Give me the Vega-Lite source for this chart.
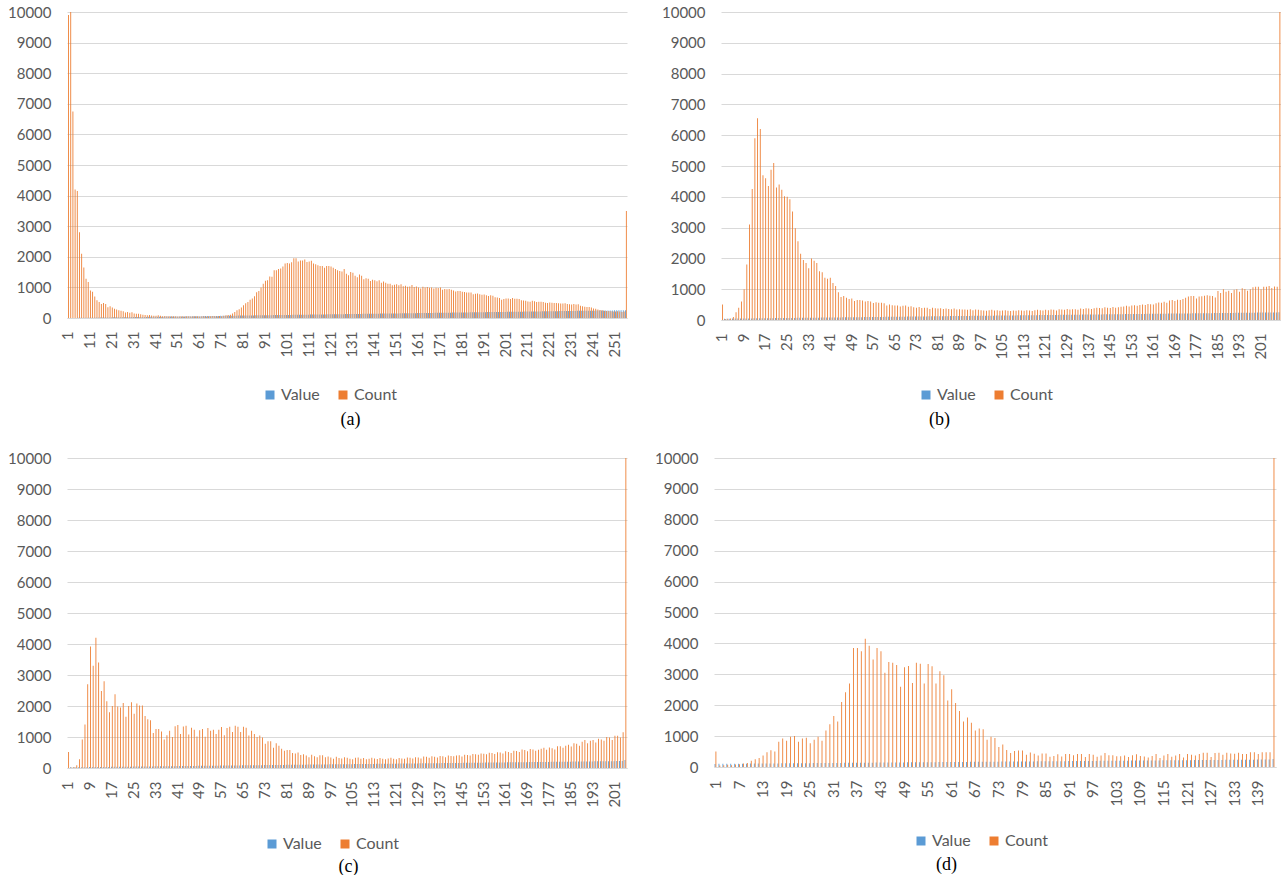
{
"$schema": "https://vega.github.io/schema/vega-lite/v6.json",
"background": "white",
"padding": {"left": 7, "top": 5, "right": 0, "bottom": 0},
"config": {
  "view": {"stroke": null},
  "axis": {"labelFont": "Lato", "labelFontSize": 15, "labelColor": "#595959", "gridColor": "#d9d9d9", "gridWidth": 1, "domainColor": "#d9d9d9", "ticks": false, "titleFont": "Liberation Serif", "titleFontSize": 18, "titleColor": "#000000", "titleFontWeight": "normal"},
  "axisY": {"domain": false, "grid": true, "labelPadding": 16, "format": "d"},
  "axisX": {"grid": false, "labelAngle": -90, "labelPadding": 13, "labelOverlap": false, "titleBaseline": "alphabetic", "titleAlign": "center"},
  "legend": {"labelFont": "Lato", "labelFontSize": 16, "labelColor": "#595959", "symbolType": "square", "symbolSize": 81, "symbolStrokeWidth": 0, "columnPadding": 15, "labelOffset": 3, "padding": 0, "orient": "none", "direction": "horizontal", "title": null}
},
"datasets": {
"a": [
{"i":1,"Value":0,"Count":9900},{"i":2,"Value":1,"Count":10800},{"i":3,"Value":2,"Count":6750},{"i":4,"Value":3,"Count":4200},{"i":5,"Value":4,"Count":4150},{"i":6,"Value":5,"Count":2800},{"i":7,"Value":6,"Count":2100},{"i":8,"Value":7,"Count":1650},{"i":9,"Value":8,"Count":1280},{"i":10,"Value":9,"Count":1180},
{"i":11,"Value":10,"Count":900},{"i":12,"Value":11,"Count":860},{"i":13,"Value":12,"Count":700},{"i":14,"Value":13,"Count":580},{"i":15,"Value":14,"Count":520},{"i":16,"Value":15,"Count":460},{"i":17,"Value":16,"Count":490},{"i":18,"Value":17,"Count":460},{"i":19,"Value":18,"Count":350},{"i":20,"Value":19,"Count":380},
{"i":21,"Value":20,"Count":340},{"i":22,"Value":21,"Count":300},{"i":23,"Value":22,"Count":280},{"i":24,"Value":23,"Count":250},{"i":25,"Value":24,"Count":240},{"i":26,"Value":25,"Count":220},{"i":27,"Value":26,"Count":180},{"i":28,"Value":27,"Count":200},{"i":29,"Value":28,"Count":170},{"i":30,"Value":29,"Count":190},
{"i":31,"Value":30,"Count":150},{"i":32,"Value":31,"Count":140},{"i":33,"Value":32,"Count":140},{"i":34,"Value":33,"Count":120},{"i":35,"Value":34,"Count":110},{"i":36,"Value":35,"Count":100},{"i":37,"Value":36,"Count":90},{"i":38,"Value":37,"Count":100},{"i":39,"Value":38,"Count":80},{"i":40,"Value":39,"Count":75},
{"i":41,"Value":40,"Count":70},{"i":42,"Value":41,"Count":90},{"i":43,"Value":42,"Count":70},{"i":44,"Value":43,"Count":60},{"i":45,"Value":44,"Count":65},{"i":46,"Value":45,"Count":60},{"i":47,"Value":46,"Count":55},{"i":48,"Value":47,"Count":60},{"i":49,"Value":48,"Count":55},{"i":50,"Value":49,"Count":60},
{"i":51,"Value":50,"Count":50},{"i":52,"Value":51,"Count":55},{"i":53,"Value":52,"Count":60},{"i":54,"Value":53,"Count":50},{"i":55,"Value":54,"Count":55},{"i":56,"Value":55,"Count":60},{"i":57,"Value":56,"Count":50},{"i":58,"Value":57,"Count":55},{"i":59,"Value":58,"Count":60},{"i":60,"Value":59,"Count":55},
{"i":61,"Value":60,"Count":45},{"i":62,"Value":61,"Count":55},{"i":63,"Value":62,"Count":60},{"i":64,"Value":63,"Count":50},{"i":65,"Value":64,"Count":60},{"i":66,"Value":65,"Count":55},{"i":67,"Value":66,"Count":65},{"i":68,"Value":67,"Count":60},{"i":69,"Value":68,"Count":60},{"i":70,"Value":69,"Count":65},
{"i":71,"Value":70,"Count":60},{"i":72,"Value":71,"Count":70},{"i":73,"Value":72,"Count":90},{"i":74,"Value":73,"Count":95},{"i":75,"Value":74,"Count":110},{"i":76,"Value":75,"Count":150},{"i":77,"Value":76,"Count":200},{"i":78,"Value":77,"Count":250},{"i":79,"Value":78,"Count":290},{"i":80,"Value":79,"Count":340},
{"i":81,"Value":80,"Count":420},{"i":82,"Value":81,"Count":480},{"i":83,"Value":82,"Count":520},{"i":84,"Value":83,"Count":600},{"i":85,"Value":84,"Count":640},{"i":86,"Value":85,"Count":710},{"i":87,"Value":86,"Count":840},{"i":88,"Value":87,"Count":880},{"i":89,"Value":88,"Count":1000},{"i":90,"Value":89,"Count":1120},
{"i":91,"Value":90,"Count":1220},{"i":92,"Value":91,"Count":1230},{"i":93,"Value":92,"Count":1360},{"i":94,"Value":93,"Count":1350},{"i":95,"Value":94,"Count":1560},{"i":96,"Value":95,"Count":1560},{"i":97,"Value":96,"Count":1600},{"i":98,"Value":97,"Count":1620},{"i":99,"Value":98,"Count":1680},{"i":100,"Value":99,"Count":1780},
{"i":101,"Value":100,"Count":1800},{"i":102,"Value":101,"Count":1780},{"i":103,"Value":102,"Count":1820},{"i":104,"Value":103,"Count":1950},{"i":105,"Value":104,"Count":1950},{"i":106,"Value":105,"Count":1850},{"i":107,"Value":106,"Count":1880},{"i":108,"Value":107,"Count":1880},{"i":109,"Value":108,"Count":1910},{"i":110,"Value":109,"Count":1830},
{"i":111,"Value":110,"Count":1850},{"i":112,"Value":111,"Count":1870},{"i":113,"Value":112,"Count":1780},{"i":114,"Value":113,"Count":1760},{"i":115,"Value":114,"Count":1720},{"i":116,"Value":115,"Count":1700},{"i":117,"Value":116,"Count":1700},{"i":118,"Value":117,"Count":1640},{"i":119,"Value":118,"Count":1700},{"i":120,"Value":119,"Count":1700},
{"i":121,"Value":120,"Count":1680},{"i":122,"Value":121,"Count":1640},{"i":123,"Value":122,"Count":1600},{"i":124,"Value":123,"Count":1560},{"i":125,"Value":124,"Count":1540},{"i":126,"Value":125,"Count":1520},{"i":127,"Value":126,"Count":1600},{"i":128,"Value":127,"Count":1450},{"i":129,"Value":128,"Count":1400},{"i":130,"Value":129,"Count":1500},
{"i":131,"Value":130,"Count":1480},{"i":132,"Value":131,"Count":1380},{"i":133,"Value":132,"Count":1330},{"i":134,"Value":133,"Count":1420},{"i":135,"Value":134,"Count":1380},{"i":136,"Value":135,"Count":1270},{"i":137,"Value":136,"Count":1300},{"i":138,"Value":137,"Count":1280},{"i":139,"Value":138,"Count":1210},{"i":140,"Value":139,"Count":1250},
{"i":141,"Value":140,"Count":1230},{"i":142,"Value":141,"Count":1200},{"i":143,"Value":142,"Count":1230},{"i":144,"Value":143,"Count":1150},{"i":145,"Value":144,"Count":1190},{"i":146,"Value":145,"Count":1150},{"i":147,"Value":146,"Count":1120},{"i":148,"Value":147,"Count":1120},{"i":149,"Value":148,"Count":1070},{"i":150,"Value":149,"Count":1090},
{"i":151,"Value":150,"Count":1100},{"i":152,"Value":151,"Count":1070},{"i":153,"Value":152,"Count":1100},{"i":154,"Value":153,"Count":1040},{"i":155,"Value":154,"Count":1050},{"i":156,"Value":155,"Count":1020},{"i":157,"Value":156,"Count":1030},{"i":158,"Value":157,"Count":1080},{"i":159,"Value":158,"Count":1010},{"i":160,"Value":159,"Count":1030},
{"i":161,"Value":160,"Count":1000},{"i":162,"Value":161,"Count":960},{"i":163,"Value":162,"Count":1020},{"i":164,"Value":163,"Count":1000},{"i":165,"Value":164,"Count":1010},{"i":166,"Value":165,"Count":990},{"i":167,"Value":166,"Count":1000},{"i":168,"Value":167,"Count":960},{"i":169,"Value":168,"Count":990},{"i":170,"Value":169,"Count":980},
{"i":171,"Value":170,"Count":1000},{"i":172,"Value":171,"Count":920},{"i":173,"Value":172,"Count":950},{"i":174,"Value":173,"Count":940},{"i":175,"Value":174,"Count":950},{"i":176,"Value":175,"Count":920},{"i":177,"Value":176,"Count":900},{"i":178,"Value":177,"Count":870},{"i":179,"Value":178,"Count":880},{"i":180,"Value":179,"Count":880},
{"i":181,"Value":180,"Count":860},{"i":182,"Value":181,"Count":850},{"i":183,"Value":182,"Count":830},{"i":184,"Value":183,"Count":830},{"i":185,"Value":184,"Count":830},{"i":186,"Value":185,"Count":780},{"i":187,"Value":186,"Count":790},{"i":188,"Value":187,"Count":800},{"i":189,"Value":188,"Count":780},{"i":190,"Value":189,"Count":760},
{"i":191,"Value":190,"Count":770},{"i":192,"Value":191,"Count":740},{"i":193,"Value":192,"Count":720},{"i":194,"Value":193,"Count":740},{"i":195,"Value":194,"Count":730},{"i":196,"Value":195,"Count":680},{"i":197,"Value":196,"Count":670},{"i":198,"Value":197,"Count":650},{"i":199,"Value":198,"Count":600},{"i":200,"Value":199,"Count":620},
{"i":201,"Value":200,"Count":640},{"i":202,"Value":201,"Count":640},{"i":203,"Value":202,"Count":620},{"i":204,"Value":203,"Count":650},{"i":205,"Value":204,"Count":630},{"i":206,"Value":205,"Count":630},{"i":207,"Value":206,"Count":620},{"i":208,"Value":207,"Count":580},{"i":209,"Value":208,"Count":570},{"i":210,"Value":209,"Count":560},
{"i":211,"Value":210,"Count":540},{"i":212,"Value":211,"Count":530},{"i":213,"Value":212,"Count":560},{"i":214,"Value":213,"Count":550},{"i":215,"Value":214,"Count":520},{"i":216,"Value":215,"Count":530},{"i":217,"Value":216,"Count":530},{"i":218,"Value":217,"Count":520},{"i":219,"Value":218,"Count":500},{"i":220,"Value":219,"Count":490},
{"i":221,"Value":220,"Count":510},{"i":222,"Value":221,"Count":500},{"i":223,"Value":222,"Count":490},{"i":224,"Value":223,"Count":490},{"i":225,"Value":224,"Count":480},{"i":226,"Value":225,"Count":470},{"i":227,"Value":226,"Count":470},{"i":228,"Value":227,"Count":480},{"i":229,"Value":228,"Count":460},{"i":230,"Value":229,"Count":450},
{"i":231,"Value":230,"Count":440},{"i":232,"Value":231,"Count":460},{"i":233,"Value":232,"Count":440},{"i":234,"Value":233,"Count":450},{"i":235,"Value":234,"Count":400},{"i":236,"Value":235,"Count":380},{"i":237,"Value":236,"Count":370},{"i":238,"Value":237,"Count":360},{"i":239,"Value":238,"Count":360},{"i":240,"Value":239,"Count":340},
{"i":241,"Value":240,"Count":310},{"i":242,"Value":241,"Count":300},{"i":243,"Value":242,"Count":280},{"i":244,"Value":243,"Count":260},{"i":245,"Value":244,"Count":250},{"i":246,"Value":245,"Count":240},{"i":247,"Value":246,"Count":230},{"i":248,"Value":247,"Count":230},{"i":249,"Value":248,"Count":220},{"i":250,"Value":249,"Count":210},
{"i":251,"Value":250,"Count":210},{"i":252,"Value":251,"Count":220},{"i":253,"Value":252,"Count":210},{"i":254,"Value":253,"Count":200},{"i":255,"Value":254,"Count":210},{"i":256,"Value":255,"Count":3500}
],
"b": [
{"i":1,"Value":0,"Count":500},{"i":2,"Value":42,"Count":30},{"i":3,"Value":43,"Count":40},{"i":4,"Value":44,"Count":50},{"i":5,"Value":45,"Count":100},{"i":6,"Value":46,"Count":250},{"i":7,"Value":47,"Count":400},{"i":8,"Value":48,"Count":600},{"i":9,"Value":49,"Count":1000},{"i":10,"Value":50,"Count":1800},
{"i":11,"Value":51,"Count":3100},{"i":12,"Value":52,"Count":4250},{"i":13,"Value":53,"Count":5900},{"i":14,"Value":54,"Count":6550},{"i":15,"Value":55,"Count":6200},{"i":16,"Value":56,"Count":4700},{"i":17,"Value":57,"Count":4600},{"i":18,"Value":58,"Count":4350},{"i":19,"Value":59,"Count":4880},{"i":20,"Value":60,"Count":5100},
{"i":21,"Value":61,"Count":4300},{"i":22,"Value":62,"Count":4400},{"i":23,"Value":63,"Count":4230},{"i":24,"Value":64,"Count":4020},{"i":25,"Value":65,"Count":4000},{"i":26,"Value":66,"Count":3920},{"i":27,"Value":67,"Count":3520},{"i":28,"Value":68,"Count":2980},{"i":29,"Value":69,"Count":2560},{"i":30,"Value":70,"Count":2150},
{"i":31,"Value":71,"Count":1950},{"i":32,"Value":72,"Count":1850},{"i":33,"Value":73,"Count":1680},{"i":34,"Value":74,"Count":2000},{"i":35,"Value":75,"Count":1920},{"i":36,"Value":76,"Count":1850},{"i":37,"Value":77,"Count":1580},{"i":38,"Value":78,"Count":1550},{"i":39,"Value":79,"Count":1370},{"i":40,"Value":80,"Count":1340},
{"i":41,"Value":81,"Count":1370},{"i":42,"Value":82,"Count":1200},{"i":43,"Value":83,"Count":1100},{"i":44,"Value":84,"Count":900},{"i":45,"Value":85,"Count":750},{"i":46,"Value":86,"Count":780},{"i":47,"Value":87,"Count":720},{"i":48,"Value":88,"Count":680},{"i":49,"Value":89,"Count":700},{"i":50,"Value":90,"Count":620},
{"i":51,"Value":91,"Count":650},{"i":52,"Value":92,"Count":650},{"i":53,"Value":93,"Count":630},{"i":54,"Value":94,"Count":600},{"i":55,"Value":95,"Count":620},{"i":56,"Value":96,"Count":600},{"i":57,"Value":97,"Count":550},{"i":58,"Value":98,"Count":580},{"i":59,"Value":99,"Count":560},{"i":60,"Value":100,"Count":560},
{"i":61,"Value":101,"Count":540},{"i":62,"Value":102,"Count":470},{"i":63,"Value":103,"Count":500},{"i":64,"Value":104,"Count":480},{"i":65,"Value":105,"Count":470},{"i":66,"Value":106,"Count":470},{"i":67,"Value":107,"Count":440},{"i":68,"Value":108,"Count":460},{"i":69,"Value":109,"Count":470},{"i":70,"Value":110,"Count":430},
{"i":71,"Value":111,"Count":450},{"i":72,"Value":112,"Count":410},{"i":73,"Value":113,"Count":400},{"i":74,"Value":114,"Count":420},{"i":75,"Value":115,"Count":390},{"i":76,"Value":116,"Count":400},{"i":77,"Value":117,"Count":400},{"i":78,"Value":118,"Count":360},{"i":79,"Value":119,"Count":400},{"i":80,"Value":120,"Count":380},
{"i":81,"Value":121,"Count":370},{"i":82,"Value":122,"Count":380},{"i":83,"Value":123,"Count":360},{"i":84,"Value":124,"Count":370},{"i":85,"Value":125,"Count":360},{"i":86,"Value":126,"Count":350},{"i":87,"Value":127,"Count":370},{"i":88,"Value":128,"Count":340},{"i":89,"Value":129,"Count":350},{"i":90,"Value":130,"Count":340},
{"i":91,"Value":131,"Count":340},{"i":92,"Value":132,"Count":330},{"i":93,"Value":133,"Count":350},{"i":94,"Value":134,"Count":320},{"i":95,"Value":135,"Count":340},{"i":96,"Value":136,"Count":330},{"i":97,"Value":137,"Count":320},{"i":98,"Value":138,"Count":310},{"i":99,"Value":139,"Count":300},{"i":100,"Value":140,"Count":320},
{"i":101,"Value":141,"Count":330},{"i":102,"Value":142,"Count":310},{"i":103,"Value":143,"Count":320},{"i":104,"Value":144,"Count":300},{"i":105,"Value":145,"Count":310},{"i":106,"Value":146,"Count":320},{"i":107,"Value":147,"Count":300},{"i":108,"Value":148,"Count":290},{"i":109,"Value":149,"Count":310},{"i":110,"Value":150,"Count":300},
{"i":111,"Value":151,"Count":320},{"i":112,"Value":152,"Count":310},{"i":113,"Value":153,"Count":300},{"i":114,"Value":154,"Count":320},{"i":115,"Value":155,"Count":310},{"i":116,"Value":156,"Count":290},{"i":117,"Value":157,"Count":320},{"i":118,"Value":158,"Count":330},{"i":119,"Value":159,"Count":320},{"i":120,"Value":160,"Count":310},
{"i":121,"Value":161,"Count":330},{"i":122,"Value":162,"Count":320},{"i":123,"Value":163,"Count":340},{"i":124,"Value":164,"Count":330},{"i":125,"Value":165,"Count":310},{"i":126,"Value":166,"Count":350},{"i":127,"Value":167,"Count":340},{"i":128,"Value":168,"Count":330},{"i":129,"Value":169,"Count":360},{"i":130,"Value":170,"Count":340},
{"i":131,"Value":171,"Count":350},{"i":132,"Value":172,"Count":350},{"i":133,"Value":173,"Count":330},{"i":134,"Value":174,"Count":370},{"i":135,"Value":175,"Count":360},{"i":136,"Value":176,"Count":380},{"i":137,"Value":177,"Count":370},{"i":138,"Value":178,"Count":360},{"i":139,"Value":179,"Count":380},{"i":140,"Value":180,"Count":400},
{"i":141,"Value":181,"Count":390},{"i":142,"Value":182,"Count":380},{"i":143,"Value":183,"Count":410},{"i":144,"Value":184,"Count":400},{"i":145,"Value":185,"Count":390},{"i":146,"Value":186,"Count":420},{"i":147,"Value":187,"Count":400},{"i":148,"Value":188,"Count":410},{"i":149,"Value":189,"Count":430},{"i":150,"Value":190,"Count":440},
{"i":151,"Value":191,"Count":460},{"i":152,"Value":192,"Count":440},{"i":153,"Value":193,"Count":470},{"i":154,"Value":194,"Count":480},{"i":155,"Value":195,"Count":460},{"i":156,"Value":196,"Count":490},{"i":157,"Value":197,"Count":500},{"i":158,"Value":198,"Count":490},{"i":159,"Value":199,"Count":520},{"i":160,"Value":200,"Count":510},
{"i":161,"Value":201,"Count":500},{"i":162,"Value":202,"Count":540},{"i":163,"Value":203,"Count":570},{"i":164,"Value":204,"Count":560},{"i":165,"Value":205,"Count":590},{"i":166,"Value":206,"Count":560},{"i":167,"Value":207,"Count":630},{"i":168,"Value":208,"Count":650},{"i":169,"Value":209,"Count":620},{"i":170,"Value":210,"Count":660},
{"i":171,"Value":211,"Count":650},{"i":172,"Value":212,"Count":680},{"i":173,"Value":213,"Count":720},{"i":174,"Value":214,"Count":760},{"i":175,"Value":215,"Count":780},{"i":176,"Value":216,"Count":780},{"i":177,"Value":217,"Count":700},{"i":178,"Value":218,"Count":760},{"i":179,"Value":219,"Count":770},{"i":180,"Value":220,"Count":790},
{"i":181,"Value":221,"Count":800},{"i":182,"Value":222,"Count":790},{"i":183,"Value":223,"Count":780},{"i":184,"Value":224,"Count":730},{"i":185,"Value":225,"Count":940},{"i":186,"Value":226,"Count":880},{"i":187,"Value":227,"Count":1000},{"i":188,"Value":228,"Count":920},{"i":189,"Value":229,"Count":950},{"i":190,"Value":230,"Count":880},
{"i":191,"Value":231,"Count":980},{"i":192,"Value":232,"Count":1000},{"i":193,"Value":233,"Count":920},{"i":194,"Value":234,"Count":1030},{"i":195,"Value":235,"Count":1010},{"i":196,"Value":236,"Count":950},{"i":197,"Value":237,"Count":1000},{"i":198,"Value":238,"Count":1060},{"i":199,"Value":239,"Count":1080},{"i":200,"Value":240,"Count":1080},
{"i":201,"Value":241,"Count":1000},{"i":202,"Value":242,"Count":1080},{"i":203,"Value":243,"Count":1080},{"i":204,"Value":244,"Count":1100},{"i":205,"Value":245,"Count":1040},{"i":206,"Value":246,"Count":1090},{"i":207,"Value":247,"Count":1080},{"i":208,"Value":255,"Count":12000}
],
"c": [
{"i":1,"Value":0,"Count":520},{"i":2,"Value":22,"Count":20},{"i":3,"Value":23,"Count":30},{"i":4,"Value":24,"Count":90},{"i":5,"Value":25,"Count":280},{"i":6,"Value":26,"Count":920},{"i":7,"Value":27,"Count":1400},{"i":8,"Value":28,"Count":2700},{"i":9,"Value":29,"Count":3920},{"i":10,"Value":30,"Count":3300},
{"i":11,"Value":31,"Count":4200},{"i":12,"Value":32,"Count":3400},{"i":13,"Value":33,"Count":2480},{"i":14,"Value":34,"Count":2800},{"i":15,"Value":35,"Count":2150},{"i":16,"Value":36,"Count":1800},{"i":17,"Value":37,"Count":2000},{"i":18,"Value":38,"Count":2380},{"i":19,"Value":39,"Count":1980},{"i":20,"Value":40,"Count":1950},
{"i":21,"Value":41,"Count":2100},{"i":22,"Value":42,"Count":1650},{"i":23,"Value":43,"Count":2000},{"i":24,"Value":44,"Count":2120},{"i":25,"Value":45,"Count":1750},{"i":26,"Value":46,"Count":2080},{"i":27,"Value":47,"Count":2020},{"i":28,"Value":48,"Count":2020},{"i":29,"Value":49,"Count":1680},{"i":30,"Value":50,"Count":1570},
{"i":31,"Value":51,"Count":1540},{"i":32,"Value":52,"Count":1130},{"i":33,"Value":53,"Count":1260},{"i":34,"Value":54,"Count":1260},{"i":35,"Value":55,"Count":1180},{"i":36,"Value":56,"Count":920},{"i":37,"Value":57,"Count":1060},{"i":38,"Value":58,"Count":1200},{"i":39,"Value":59,"Count":1000},{"i":40,"Value":60,"Count":1350},
{"i":41,"Value":61,"Count":1390},{"i":42,"Value":62,"Count":1100},{"i":43,"Value":63,"Count":1340},{"i":44,"Value":64,"Count":1360},{"i":45,"Value":65,"Count":1080},{"i":46,"Value":66,"Count":1300},{"i":47,"Value":67,"Count":1230},{"i":48,"Value":68,"Count":1020},{"i":49,"Value":69,"Count":1220},{"i":50,"Value":70,"Count":1260},
{"i":51,"Value":71,"Count":1010},{"i":52,"Value":72,"Count":1290},{"i":53,"Value":73,"Count":1200},{"i":54,"Value":74,"Count":1230},{"i":55,"Value":75,"Count":1100},{"i":56,"Value":76,"Count":1230},{"i":57,"Value":77,"Count":1320},{"i":58,"Value":78,"Count":1060},{"i":59,"Value":79,"Count":1290},{"i":60,"Value":80,"Count":1330},
{"i":61,"Value":81,"Count":1160},{"i":62,"Value":82,"Count":1360},{"i":63,"Value":83,"Count":1330},{"i":64,"Value":84,"Count":1160},{"i":65,"Value":85,"Count":1330},{"i":66,"Value":86,"Count":1300},{"i":67,"Value":87,"Count":1050},{"i":68,"Value":88,"Count":1200},{"i":69,"Value":89,"Count":1100},{"i":70,"Value":90,"Count":1000},
{"i":71,"Value":91,"Count":1050},{"i":72,"Value":92,"Count":980},{"i":73,"Value":93,"Count":780},{"i":74,"Value":94,"Count":860},{"i":75,"Value":95,"Count":860},{"i":76,"Value":96,"Count":650},{"i":77,"Value":97,"Count":800},{"i":78,"Value":98,"Count":720},{"i":79,"Value":99,"Count":620},{"i":80,"Value":100,"Count":560},
{"i":81,"Value":101,"Count":580},{"i":82,"Value":102,"Count":580},{"i":83,"Value":103,"Count":480},{"i":84,"Value":104,"Count":470},{"i":85,"Value":105,"Count":500},{"i":86,"Value":106,"Count":420},{"i":87,"Value":107,"Count":440},{"i":88,"Value":108,"Count":400},{"i":89,"Value":109,"Count":350},{"i":90,"Value":110,"Count":430},
{"i":91,"Value":111,"Count":380},{"i":92,"Value":112,"Count":350},{"i":93,"Value":113,"Count":410},{"i":94,"Value":114,"Count":410},{"i":95,"Value":115,"Count":350},{"i":96,"Value":116,"Count":370},{"i":97,"Value":117,"Count":340},{"i":98,"Value":118,"Count":300},{"i":99,"Value":119,"Count":360},{"i":100,"Value":120,"Count":320},
{"i":101,"Value":121,"Count":310},{"i":102,"Value":122,"Count":350},{"i":103,"Value":123,"Count":330},{"i":104,"Value":124,"Count":300},{"i":105,"Value":125,"Count":280},{"i":106,"Value":126,"Count":330},{"i":107,"Value":127,"Count":340},{"i":108,"Value":128,"Count":300},{"i":109,"Value":129,"Count":320},{"i":110,"Value":130,"Count":280},
{"i":111,"Value":131,"Count":300},{"i":112,"Value":132,"Count":330},{"i":113,"Value":133,"Count":310},{"i":114,"Value":134,"Count":290},{"i":115,"Value":135,"Count":320},{"i":116,"Value":136,"Count":300},{"i":117,"Value":137,"Count":280},{"i":118,"Value":138,"Count":310},{"i":119,"Value":139,"Count":330},{"i":120,"Value":140,"Count":300},
{"i":121,"Value":141,"Count":280},{"i":122,"Value":142,"Count":320},{"i":123,"Value":143,"Count":310},{"i":124,"Value":144,"Count":300},{"i":125,"Value":145,"Count":340},{"i":126,"Value":146,"Count":330},{"i":127,"Value":147,"Count":310},{"i":128,"Value":148,"Count":350},{"i":129,"Value":149,"Count":340},{"i":130,"Value":150,"Count":310},
{"i":131,"Value":151,"Count":370},{"i":132,"Value":152,"Count":360},{"i":133,"Value":153,"Count":330},{"i":134,"Value":154,"Count":380},{"i":135,"Value":155,"Count":360},{"i":136,"Value":156,"Count":340},{"i":137,"Value":157,"Count":390},{"i":138,"Value":158,"Count":380},{"i":139,"Value":159,"Count":350},{"i":140,"Value":160,"Count":400},
{"i":141,"Value":161,"Count":390},{"i":142,"Value":162,"Count":380},{"i":143,"Value":163,"Count":400},{"i":144,"Value":164,"Count":410},{"i":145,"Value":165,"Count":370},{"i":146,"Value":166,"Count":430},{"i":147,"Value":167,"Count":420},{"i":148,"Value":168,"Count":400},{"i":149,"Value":169,"Count":450},{"i":150,"Value":170,"Count":440},
{"i":151,"Value":171,"Count":430},{"i":152,"Value":172,"Count":470},{"i":153,"Value":173,"Count":460},{"i":154,"Value":174,"Count":440},{"i":155,"Value":175,"Count":490},{"i":156,"Value":176,"Count":480},{"i":157,"Value":177,"Count":450},{"i":158,"Value":178,"Count":510},{"i":159,"Value":179,"Count":500},{"i":160,"Value":180,"Count":470},
{"i":161,"Value":181,"Count":540},{"i":162,"Value":182,"Count":520},{"i":163,"Value":183,"Count":480},{"i":164,"Value":184,"Count":560},{"i":165,"Value":185,"Count":550},{"i":166,"Value":186,"Count":520},{"i":167,"Value":187,"Count":600},{"i":168,"Value":188,"Count":580},{"i":169,"Value":189,"Count":540},{"i":170,"Value":190,"Count":610},
{"i":171,"Value":191,"Count":600},{"i":172,"Value":192,"Count":560},{"i":173,"Value":193,"Count":590},{"i":174,"Value":194,"Count":620},{"i":175,"Value":195,"Count":650},{"i":176,"Value":196,"Count":590},{"i":177,"Value":197,"Count":660},{"i":178,"Value":198,"Count":640},{"i":179,"Value":199,"Count":600},{"i":180,"Value":200,"Count":700},
{"i":181,"Value":201,"Count":700},{"i":182,"Value":202,"Count":650},{"i":183,"Value":203,"Count":720},{"i":184,"Value":204,"Count":750},{"i":185,"Value":205,"Count":690},{"i":186,"Value":206,"Count":800},{"i":187,"Value":207,"Count":780},{"i":188,"Value":208,"Count":720},{"i":189,"Value":209,"Count":850},{"i":190,"Value":210,"Count":900},
{"i":191,"Value":211,"Count":800},{"i":192,"Value":212,"Count":880},{"i":193,"Value":213,"Count":900},{"i":194,"Value":214,"Count":820},{"i":195,"Value":215,"Count":940},{"i":196,"Value":216,"Count":920},{"i":197,"Value":217,"Count":880},{"i":198,"Value":218,"Count":1000},{"i":199,"Value":219,"Count":980},{"i":200,"Value":220,"Count":900},
{"i":201,"Value":221,"Count":1040},{"i":202,"Value":222,"Count":1040},{"i":203,"Value":223,"Count":980},{"i":204,"Value":224,"Count":1150},{"i":205,"Value":255,"Count":12000}
],
"d": [
{"i":1,"Value":101,"Count":500},{"i":2,"Value":102,"Count":50},{"i":3,"Value":103,"Count":60},{"i":4,"Value":104,"Count":70},{"i":5,"Value":105,"Count":60},{"i":6,"Value":106,"Count":80},{"i":7,"Value":107,"Count":90},{"i":8,"Value":108,"Count":110},{"i":9,"Value":109,"Count":130},{"i":10,"Value":110,"Count":200},
{"i":11,"Value":111,"Count":250},{"i":12,"Value":112,"Count":290},{"i":13,"Value":113,"Count":370},{"i":14,"Value":114,"Count":480},{"i":15,"Value":115,"Count":540},{"i":16,"Value":116,"Count":500},{"i":17,"Value":117,"Count":820},{"i":18,"Value":118,"Count":920},{"i":19,"Value":119,"Count":850},{"i":20,"Value":120,"Count":980},
{"i":21,"Value":121,"Count":1000},{"i":22,"Value":122,"Count":820},{"i":23,"Value":123,"Count":920},{"i":24,"Value":124,"Count":950},{"i":25,"Value":125,"Count":770},{"i":26,"Value":126,"Count":880},{"i":27,"Value":127,"Count":980},{"i":28,"Value":128,"Count":850},{"i":29,"Value":129,"Count":1180},{"i":30,"Value":130,"Count":1380},
{"i":31,"Value":131,"Count":1650},{"i":32,"Value":132,"Count":1470},{"i":33,"Value":133,"Count":2100},{"i":34,"Value":134,"Count":2420},{"i":35,"Value":135,"Count":2700},{"i":36,"Value":136,"Count":3850},{"i":37,"Value":137,"Count":3850},{"i":38,"Value":138,"Count":3750},{"i":39,"Value":139,"Count":4150},{"i":40,"Value":140,"Count":3920},
{"i":41,"Value":141,"Count":3480},{"i":42,"Value":142,"Count":3850},{"i":43,"Value":143,"Count":3750},{"i":44,"Value":144,"Count":3050},{"i":45,"Value":145,"Count":3400},{"i":46,"Value":146,"Count":3370},{"i":47,"Value":147,"Count":3300},{"i":48,"Value":148,"Count":2600},{"i":49,"Value":149,"Count":3230},{"i":50,"Value":150,"Count":3270},
{"i":51,"Value":151,"Count":2720},{"i":52,"Value":152,"Count":3370},{"i":53,"Value":153,"Count":3340},{"i":54,"Value":154,"Count":2700},{"i":55,"Value":155,"Count":3330},{"i":56,"Value":156,"Count":3260},{"i":57,"Value":157,"Count":2700},{"i":58,"Value":158,"Count":3100},{"i":59,"Value":159,"Count":2970},{"i":60,"Value":160,"Count":2150},
{"i":61,"Value":161,"Count":2520},{"i":62,"Value":162,"Count":2070},{"i":63,"Value":163,"Count":1810},{"i":64,"Value":164,"Count":1470},{"i":65,"Value":165,"Count":1600},{"i":66,"Value":166,"Count":1430},{"i":67,"Value":167,"Count":1180},{"i":68,"Value":168,"Count":1250},{"i":69,"Value":169,"Count":1220},{"i":70,"Value":170,"Count":880},
{"i":71,"Value":171,"Count":980},{"i":72,"Value":172,"Count":940},{"i":73,"Value":173,"Count":650},{"i":74,"Value":174,"Count":730},{"i":75,"Value":175,"Count":550},{"i":76,"Value":176,"Count":450},{"i":77,"Value":177,"Count":520},{"i":78,"Value":178,"Count":530},{"i":79,"Value":179,"Count":530},{"i":80,"Value":180,"Count":400},
{"i":81,"Value":181,"Count":470},{"i":82,"Value":182,"Count":430},{"i":83,"Value":183,"Count":370},{"i":84,"Value":184,"Count":440},{"i":85,"Value":185,"Count":440},{"i":86,"Value":186,"Count":330},{"i":87,"Value":187,"Count":360},{"i":88,"Value":188,"Count":410},{"i":89,"Value":189,"Count":340},{"i":90,"Value":190,"Count":420},
{"i":91,"Value":191,"Count":420},{"i":92,"Value":192,"Count":380},{"i":93,"Value":193,"Count":420},{"i":94,"Value":194,"Count":420},{"i":95,"Value":195,"Count":320},{"i":96,"Value":196,"Count":420},{"i":97,"Value":197,"Count":400},{"i":98,"Value":198,"Count":330},{"i":99,"Value":199,"Count":370},{"i":100,"Value":200,"Count":450},
{"i":101,"Value":201,"Count":380},{"i":102,"Value":202,"Count":380},{"i":103,"Value":203,"Count":350},{"i":104,"Value":204,"Count":350},{"i":105,"Value":205,"Count":370},{"i":106,"Value":206,"Count":320},{"i":107,"Value":207,"Count":380},{"i":108,"Value":208,"Count":410},{"i":109,"Value":209,"Count":360},{"i":110,"Value":210,"Count":340},
{"i":111,"Value":211,"Count":310},{"i":112,"Value":212,"Count":360},{"i":113,"Value":213,"Count":420},{"i":114,"Value":214,"Count":290},{"i":115,"Value":215,"Count":370},{"i":116,"Value":216,"Count":420},{"i":117,"Value":217,"Count":330},{"i":118,"Value":218,"Count":370},{"i":119,"Value":219,"Count":420},{"i":120,"Value":220,"Count":310},
{"i":121,"Value":221,"Count":420},{"i":122,"Value":222,"Count":400},{"i":123,"Value":223,"Count":370},{"i":124,"Value":224,"Count":420},{"i":125,"Value":225,"Count":460},{"i":126,"Value":226,"Count":460},{"i":127,"Value":227,"Count":320},{"i":128,"Value":228,"Count":450},{"i":129,"Value":229,"Count":460},{"i":130,"Value":230,"Count":400},
{"i":131,"Value":231,"Count":460},{"i":132,"Value":232,"Count":440},{"i":133,"Value":233,"Count":430},{"i":134,"Value":234,"Count":460},{"i":135,"Value":235,"Count":420},{"i":136,"Value":236,"Count":420},{"i":137,"Value":237,"Count":480},{"i":138,"Value":238,"Count":480},{"i":139,"Value":239,"Count":420},{"i":140,"Value":240,"Count":480},
{"i":141,"Value":241,"Count":480},{"i":142,"Value":242,"Count":480},{"i":143,"Value":255,"Count":12000}
]
},
"resolve": {"legend": {"color": "independent"}, "scale": {"x": "independent"}},
"spacing": 23,
"vconcat": [
{
"hconcat": [
{
"width": 560, "height": 306,
"data": {"name": "a"},
"transform": [{"fold": ["Value", "Count"], "as": ["series", "amount"]}],
"mark": {"type": "bar", "clip": true},
"encoding": {
"x": {"field": "i", "type": "ordinal", "scale": {"paddingInner": 0.2, "paddingOuter": 0.1},
"axis": {"values": [1,11,21,31,41,51,61,71,81,91,101,111,121,131,141,151,161,171,181,191,201,211,221,231,241,251], "title": "(a)", "titleX": 283, "titleY": 106}},
"xOffset": {"field": "series", "type": "nominal", "sort": ["Value", "Count"]},
"y": {"field": "amount", "type": "quantitative", "scale": {"domain": [0, 10000], "nice": false}, "axis": {"values": [0,1000,2000,3000,4000,5000,6000,7000,8000,9000,10000], "title": null}},
"color": {"field": "series", "type": "nominal", "scale": {"domain": ["Value", "Count"], "range": ["#5B9BD5", "#ED7D31"]}, "legend": {"legendX": 195, "legendY": 375}}
}
},
{
"width": 560, "height": 308,
"data": {"name": "b"},
"transform": [{"fold": ["Value", "Count"], "as": ["series", "amount"]}],
"mark": {"type": "bar", "clip": true},
"encoding": {
"x": {"field": "i", "type": "ordinal", "scale": {"paddingInner": 0.2, "paddingOuter": 0.1},
"axis": {"values": [1,9,17,25,33,41,49,57,65,73,81,89,97,105,113,121,129,137,145,153,161,169,177,185,193,201], "title": "(b)", "titleX": 218, "titleY": 104}},
"xOffset": {"field": "series", "type": "nominal", "sort": ["Value", "Count"]},
"y": {"field": "amount", "type": "quantitative", "scale": {"domain": [0, 10000], "nice": false}, "axis": {"values": [0,1000,2000,3000,4000,5000,6000,7000,8000,9000,10000], "title": null}},
"color": {"field": "series", "type": "nominal", "scale": {"domain": ["Value", "Count"], "range": ["#5B9BD5", "#ED7D31"]}, "legend": {"legendX": 197, "legendY": 375}}
}
}
],
"spacing": 34,
"resolve": {"legend": {"color": "independent"}, "scale": {"x": "independent"}}
},
{
"hconcat": [
{
"width": 560, "height": 310,
"data": {"name": "c"},
"transform": [{"fold": ["Value", "Count"], "as": ["series", "amount"]}],
"mark": {"type": "bar", "clip": true},
"encoding": {
"x": {"field": "i", "type": "ordinal", "scale": {"paddingInner": 0.2, "paddingOuter": 0.1},
"axis": {"values": [1,9,17,25,33,41,49,57,65,73,81,89,97,105,113,121,129,137,145,153,161,169,177,185,193,201], "title": "(c)", "titleX": 281, "titleY": 103}},
"xOffset": {"field": "series", "type": "nominal", "sort": ["Value", "Count"]},
"y": {"field": "amount", "type": "quantitative", "scale": {"domain": [0, 10000], "nice": false}, "axis": {"values": [0,1000,2000,3000,4000,5000,6000,7000,8000,9000,10000], "title": null}},
"color": {"field": "series", "type": "nominal", "scale": {"domain": ["Value", "Count"], "range": ["#5B9BD5", "#ED7D31"]}, "legend": {"legendX": 197, "legendY": 378}}
}
},
{
"width": 562, "height": 309,
"data": {"name": "d"},
"transform": [{"fold": ["Value", "Count"], "as": ["series", "amount"]}],
"mark": {"type": "bar", "clip": true},
"encoding": {
"x": {"field": "i", "type": "ordinal", "scale": {"paddingInner": 0.3, "paddingOuter": 0.15},
"axis": {"values": [1,7,13,19,25,31,37,43,49,55,61,67,73,79,85,91,97,103,109,115,121,127,133,139], "title": "(d)", "titleX": 232, "titleY": 102}},
"xOffset": {"field": "series", "type": "nominal", "sort": ["Value", "Count"]},
"y": {"field": "amount", "type": "quantitative", "scale": {"domain": [0, 10000], "nice": false}, "axis": {"values": [0,1000,2000,3000,4000,5000,6000,7000,8000,9000,10000], "title": null}},
"color": {"field": "series", "type": "nominal", "scale": {"domain": ["Value", "Count"], "range": ["#5B9BD5", "#ED7D31"]}, "legend": {"legendX": 199, "legendY": 375}}
}
}
],
"spacing": 27,
"resolve": {"legend": {"color": "independent"}, "scale": {"x": "independent"}}
}
]
}
